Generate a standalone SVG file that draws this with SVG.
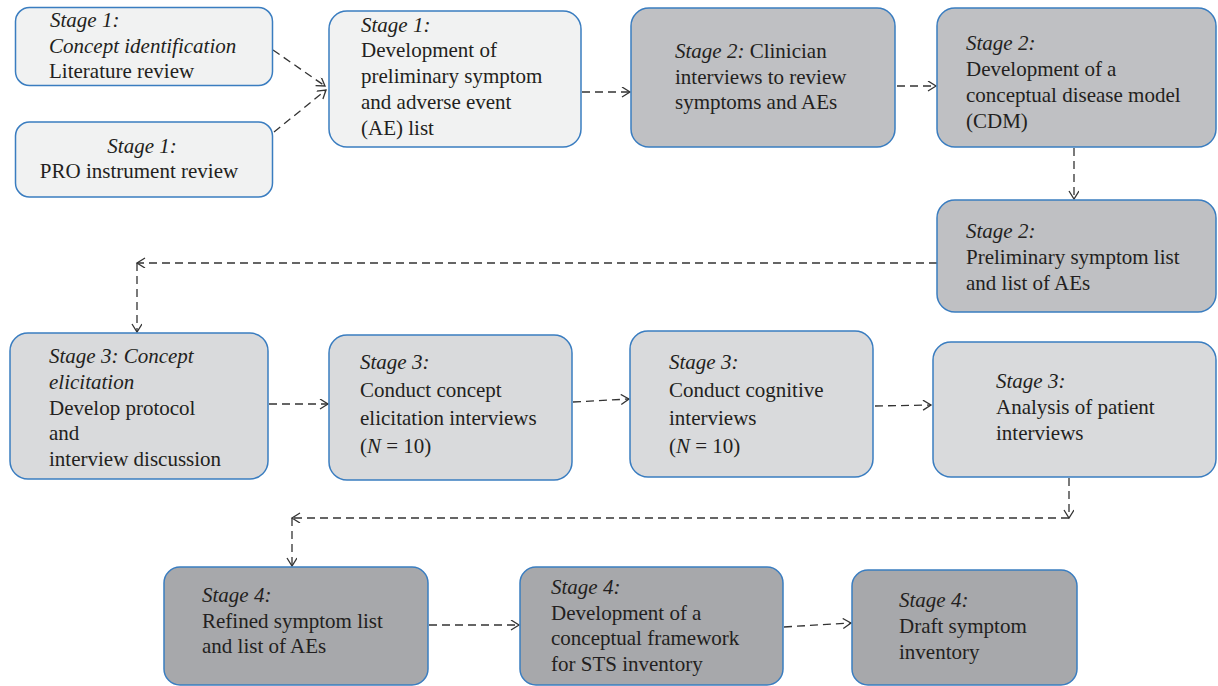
<svg xmlns="http://www.w3.org/2000/svg" width="1218" height="686" viewBox="0 0 1218 686">
<style>
.box{stroke:#3a7dc0;stroke-width:1.5}
.s1{fill:#f1f2f2}
.s2{fill:#bfc0c3}
.s3{fill:#d9dadc}
.s4{fill:#a7a8ab}
.t{font-family:Liberation Serif,serif;font-size:21px;fill:#231f20}
.i{font-style:italic}
.c{fill:none;stroke:#333;stroke-width:1.3;stroke-dasharray:8 5;marker-end:url(#ah)}
</style>
<defs>
<marker id="ah" markerUnits="userSpaceOnUse" markerWidth="12" markerHeight="12" refX="9" refY="5" orient="auto">
<path d="M1,0 L9,5 L1,10" fill="none" stroke="#333" stroke-width="1.3"/>
</marker>
</defs>
<rect width="1218" height="686" fill="#ffffff"/>

<g id="connectors">
<path class="c" d="M273,50 L325,86"/>
<path class="c" d="M274,132 L326,90"/>
<path class="c" d="M582,92 L630,92"/>
<path class="c" d="M897,86 L936,86"/>
<path class="c" d="M1074,148 L1074,199"/>
<path class="c" d="M937,263 L137,263"/>
<path class="c" d="M137,263 L137,332"/>
<path class="c" d="M269,404 L328,404"/>
<path class="c" d="M573,402 L629,399"/>
<path class="c" d="M875,406 L931,405"/>
<path class="c" d="M1069,478 L1069,518"/>
<path class="c" d="M1069,518 L292,518"/>
<path class="c" d="M292,518 L292,566"/>
<path class="c" d="M429,625 L519,625"/>
<path class="c" d="M784,627 L851,623"/>
</g>

<g id="n1a">
<rect class="box s1" x="15.5" y="7.5" width="257" height="78" rx="14"/>
<text class="t i" font-family="Liberation Serif" x="50" y="27">Stage 1:</text>
<text class="t i" font-family="Liberation Serif" x="49" y="53">Concept identification</text>
<text class="t" font-family="Liberation Serif" x="49" y="78">Literature review</text>
</g>
<g id="n1b">
<rect class="box s1" x="15.5" y="122" width="257" height="75" rx="14"/>
<text class="t i" font-family="Liberation Serif" x="142" y="153" text-anchor="middle">Stage 1:</text>
<text class="t" font-family="Liberation Serif" x="139" y="178" text-anchor="middle">PRO instrument review</text>
</g>
<g id="n1c">
<rect class="box s1" x="329" y="11" width="252" height="136" rx="18"/>
<text class="t i" font-family="Liberation Serif" x="361" y="32">Stage 1:</text>
<text class="t" font-family="Liberation Serif" x="361" y="57">Development of</text>
<text class="t" font-family="Liberation Serif" x="361" y="83">preliminary symptom</text>
<text class="t" font-family="Liberation Serif" x="361" y="109">and adverse event</text>
<text class="t" font-family="Liberation Serif" x="361" y="135">(AE) list</text>
</g>
<g id="n2a">
<rect class="box s2" x="631" y="8" width="264" height="139" rx="18"/>
<text class="t" font-family="Liberation Serif" x="675" y="58"><tspan class="i">Stage 2:</tspan> Clinician</text>
<text class="t" font-family="Liberation Serif" x="675" y="84">interviews to review</text>
<text class="t" font-family="Liberation Serif" x="675" y="109">symptoms and AEs</text>
</g>
<g id="n2b">
<rect class="box s2" x="937" y="8" width="279" height="139" rx="18"/>
<text class="t i" font-family="Liberation Serif" x="966" y="50">Stage 2:</text>
<text class="t" font-family="Liberation Serif" x="966" y="76">Development of a</text>
<text class="t" font-family="Liberation Serif" x="966" y="102">conceptual disease model</text>
<text class="t" font-family="Liberation Serif" x="966" y="128">(CDM)</text>
</g>
<g id="n2c">
<rect class="box s2" x="937" y="200" width="279" height="112" rx="18"/>
<text class="t i" font-family="Liberation Serif" x="966" y="238">Stage 2:</text>
<text class="t" font-family="Liberation Serif" x="966" y="264">Preliminary symptom list</text>
<text class="t" font-family="Liberation Serif" x="966" y="290">and list of AEs</text>
</g>
<g id="n3a">
<rect class="box s3" x="10" y="333" width="258" height="146" rx="18"/>
<text class="t i" font-family="Liberation Serif" x="49" y="363">Stage 3: Concept</text>
<text class="t i" font-family="Liberation Serif" x="49" y="389">elicitation</text>
<text class="t" font-family="Liberation Serif" x="49" y="415">Develop protocol</text>
<text class="t" font-family="Liberation Serif" x="49" y="440">and</text>
<text class="t" font-family="Liberation Serif" x="49" y="466">interview discussion</text>
</g>
<g id="n3b">
<rect class="box s3" x="329" y="335" width="243" height="145" rx="18"/>
<text class="t i" font-family="Liberation Serif" x="360" y="369">Stage 3:</text>
<text class="t" font-family="Liberation Serif" x="360" y="397">Conduct concept</text>
<text class="t" font-family="Liberation Serif" x="360" y="425">elicitation interviews</text>
<text class="t" font-family="Liberation Serif" x="360" y="453">(<tspan class="i">N</tspan> = 10)</text>
</g>
<g id="n3c">
<rect class="box s3" x="630" y="331" width="243" height="146" rx="18"/>
<text class="t i" font-family="Liberation Serif" x="669" y="369">Stage 3:</text>
<text class="t" font-family="Liberation Serif" x="669" y="397">Conduct cognitive</text>
<text class="t" font-family="Liberation Serif" x="669" y="425">interviews</text>
<text class="t" font-family="Liberation Serif" x="669" y="453">(<tspan class="i">N</tspan> = 10)</text>
</g>
<g id="n3d">
<rect class="box s3" x="933" y="342" width="283" height="135" rx="18"/>
<text class="t i" font-family="Liberation Serif" x="996" y="388">Stage 3:</text>
<text class="t" font-family="Liberation Serif" x="996" y="414">Analysis of patient</text>
<text class="t" font-family="Liberation Serif" x="996" y="440">interviews</text>
</g>
<g id="n4a">
<rect class="box s4" x="164" y="567" width="264" height="118" rx="16"/>
<text class="t i" font-family="Liberation Serif" x="202" y="602">Stage 4:</text>
<text class="t" font-family="Liberation Serif" x="202" y="628">Refined symptom list</text>
<text class="t" font-family="Liberation Serif" x="202" y="653">and list of AEs</text>
</g>
<g id="n4b">
<rect class="box s4" x="520" y="567" width="263" height="118" rx="16"/>
<text class="t i" font-family="Liberation Serif" x="551" y="594">Stage 4:</text>
<text class="t" font-family="Liberation Serif" x="551" y="620">Development of a</text>
<text class="t" font-family="Liberation Serif" x="551" y="645">conceptual framework</text>
<text class="t" font-family="Liberation Serif" x="551" y="671">for STS inventory</text>
</g>
<g id="n4c">
<rect class="box s4" x="852" y="570" width="225" height="115" rx="16"/>
<text class="t i" font-family="Liberation Serif" x="899" y="607">Stage 4:</text>
<text class="t" font-family="Liberation Serif" x="899" y="633">Draft symptom</text>
<text class="t" font-family="Liberation Serif" x="899" y="659">inventory</text>
</g>
</svg>
